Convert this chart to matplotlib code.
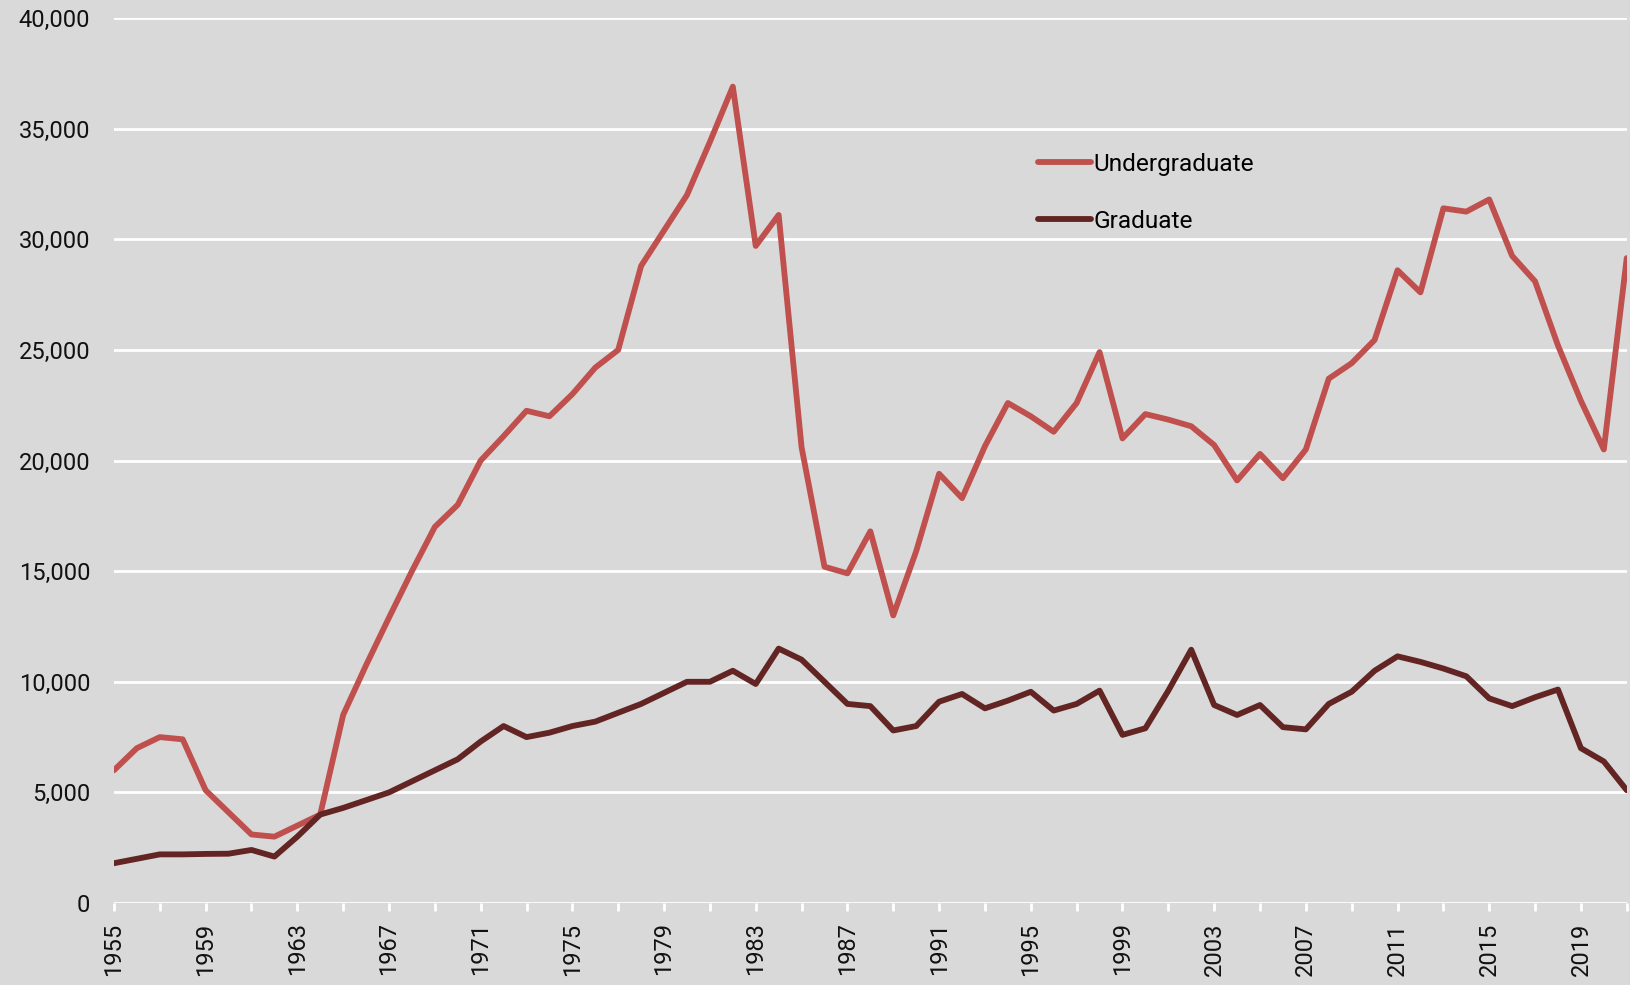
import matplotlib.pyplot as plt
from matplotlib.ticker import FuncFormatter, MultipleLocator
import numpy as np

plt.rcParams['font.family'] = ['Roboto', 'DejaVu Sans']

# Data
years = np.arange(1955, 2022)
undergraduate = [6000, 7000, 7500, 7400, 5100, 4100, 3100, 3000, 3500, 4000,
                 8500, 10750, 12900, 15000, 17000, 18000, 20000, 21100, 22250, 22000,
                 23000, 24200, 25000, 28800, 30400, 32000, 34400, 36900, 29700, 31100,
                 20600, 15200, 14900, 16800, 13000, 15900, 19400, 18300, 20650, 22600,
                 22000, 21300, 22600, 24900, 21000, 22100, 21850, 21550, 20700, 19100,
                 20300, 19200, 20500, 23700, 24400, 25450, 28600, 27600, 31400, 31250,
                 31800, 29250, 28100, 25200, 22700, 20500, 29150]
graduate = [1800, 2000, 2200, 2200, 2220, 2230, 2400, 2100, 3000, 4000,
            4300, 4650, 5000, 5500, 6000, 6500, 7300, 8000, 7500, 7700,
            8000, 8200, 8600, 9000, 9500, 10000, 10000, 10500, 9900, 11500,
            11000, 10000, 9000, 8900, 7800, 8000, 9100, 9450, 8800, 9150,
            9550, 8700, 9000, 9600, 7600, 7900, 9600, 11450, 8950, 8500,
            8950, 7950, 7850, 9000, 9550, 10500, 11150, 10900, 10600, 10250,
            9250, 8900, 9300, 9650, 7000, 6400, 5100]

bg = '#D9D9D9'
fig = plt.figure(figsize=(16.3, 9.85), dpi=100, facecolor=bg)
ax = fig.add_axes([0.0699, 0.0832, 0.9281, 0.8985])
ax.set_facecolor(bg)

ax.plot(years, undergraduate, color='#C0504D', linewidth=4.2, label='Undergraduate',
        solid_joinstyle='round', solid_capstyle='round', zorder=3)
ax.plot(years, graduate, color='#632523', linewidth=4.2, label='Graduate',
        solid_joinstyle='round', solid_capstyle='round', zorder=3)

ax.set_xlim(1955, 2021)
ax.set_ylim(0, 40000)

# Gridlines
ax.yaxis.set_major_locator(MultipleLocator(5000))
ax.grid(axis='y', color='white', linewidth=2)
ax.grid(axis='x', visible=False)
ax.set_axisbelow(True)
for s in ax.spines.values():
    s.set_visible(False)

ax.yaxis.set_major_formatter(FuncFormatter(lambda v, p: f'{int(v):,}'))
ax.tick_params(axis='y', length=0, pad=17, labelsize=17, labelcolor='#111111')

# x ticks: marks every 2 years, labels every 4
ax.set_xticks(np.arange(1955, 2022, 4))
ax.set_xticks(np.arange(1957, 2022, 4), minor=True)
ax.tick_params(axis='x', which='both', length=6, width=2, color='white', direction='out')
ax.tick_params(axis='x', which='major', labelsize=17, labelrotation=90, pad=8, labelcolor='#111111')

leg = ax.legend(loc='upper left', bbox_to_anchor=(0.611, 0.848), frameon=False,
                fontsize=17.6, handlelength=2.15, handletextpad=0.1, labelspacing=1.4,
                borderpad=0, borderaxespad=0)

fig.savefig('out.png', dpi=100, facecolor=bg)
